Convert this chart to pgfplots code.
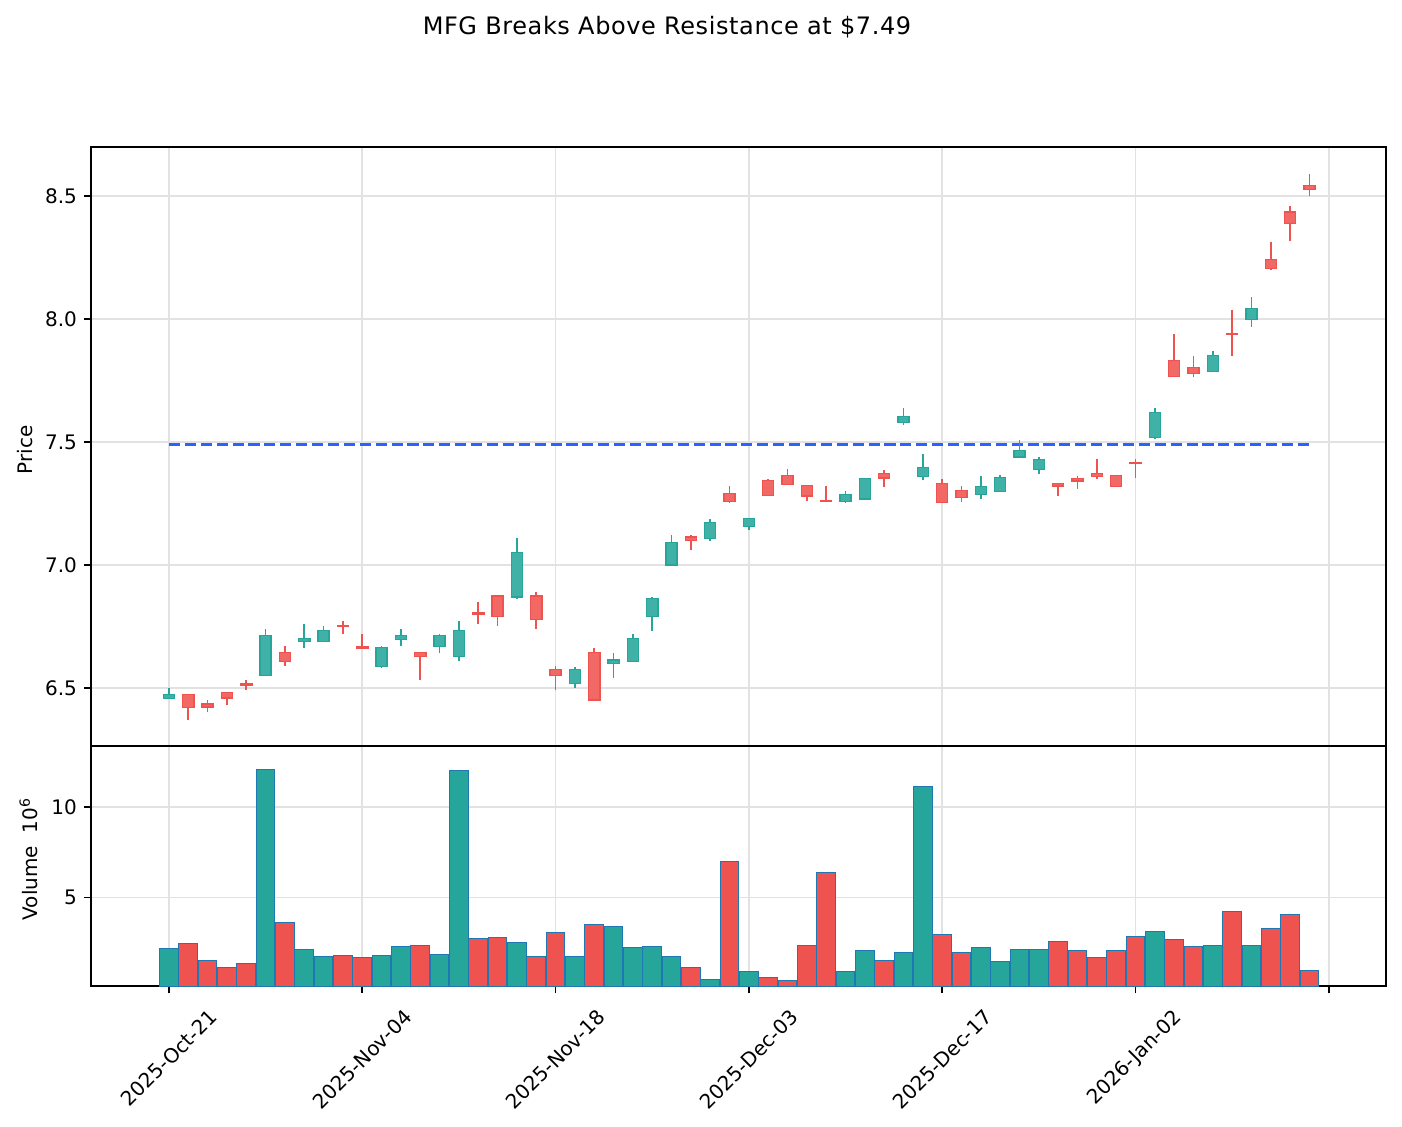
\documentclass[border=0pt]{standalone}
\usepackage{fontspec}
\setmainfont{DejaVu Sans}
\usepackage{graphicx}
\usepackage{pgfplots}
\pgfplotsset{compat=1.18}
\usepackage{pgfplotstable}

\definecolor{upc}{HTML}{26A69A}
\definecolor{dnc}{HTML}{EF5350}
\definecolor{volEdge}{HTML}{1F77B4}
\definecolor{resist}{HTML}{2962FF}
\definecolor{gridc}{HTML}{E2E2E2}

\pgfplotsset{
  upwick/.style={draw=upc, line width=0.85pt, mark=none, forget plot},
  dnwick/.style={draw=dnc, line width=0.85pt, mark=none, forget plot},
  upbody/.style={draw=upc, fill=upc!88!white, line width=0.7pt, mark=none, forget plot},
  dnbody/.style={draw=dnc, fill=dnc!88!white, line width=0.7pt, mark=none, forget plot},
  base/.style={
    scale only axis, width=647.5pt, xmin=-4.03, xmax=62.96,
    axis line style={line width=0.8pt, black},
    tick align=outside, major tick length=3.5pt,
    every tick/.style={black, line width=0.8pt},
    xtick pos=bottom, ytick pos=left,
    grid=major, grid style={gridc, line width=0.8pt},
    xtick={0,10,...,60},
    tick label style={font=\fontsize{10}{12}\selectfont, black},
    /pgf/number format/assume math mode=true,
  }
}

% candle: index, open, high, low, close
\newcommand\candle[5]{%
  \pgfmathsetmacro\lo{min(#2,#5)}%
  \pgfmathsetmacro\hi{max(#2,#5)}%
  \pgfmathsetmacro\xl{#1-0.29}%
  \pgfmathsetmacro\xr{#1+0.29}%
  \pgfmathparse{#5>=#2?1:0}%
  \ifdim\pgfmathresult pt>0.5pt \def\cc{up}\else\def\cc{dn}\fi
  \edef\tmp{%
    \noexpand\addplot[\cc wick] coordinates {(#1,#4) (#1,#3)};
    \noexpand\addplot[\cc body] coordinates {(\xl,\lo) (\xr,\lo) (\xr,\hi) (\xl,\hi)} -- cycle;
  }\tmp
}

\pgfplotstableread{
i v d
0 2.17 1
1 2.48 0
2 1.54 0
3 1.16 0
4 1.38 0
5 12.08 1
6 3.64 0
7 2.12 1
8 1.73 1
9 1.82 0
10 1.71 0
11 1.82 1
12 2.32 1
13 2.37 0
14 1.89 1
15 12.02 1
16 2.76 0
17 2.81 0
18 2.50 1
19 1.77 0
20 3.09 0
21 1.77 1
22 3.53 0
23 3.42 1
24 2.26 1
25 2.32 1
26 1.77 1
27 1.16 0
28 0.46 1
29 7.00 0
30 0.94 1
31 0.61 0
32 0.44 0
33 2.37 0
34 6.40 0
35 0.90 1
36 2.10 1
37 1.54 0
38 1.99 1
39 11.14 1
40 2.98 0
41 1.99 0
42 2.26 1
43 1.49 1
44 2.15 1
45 2.15 1
46 2.59 0
47 2.10 0
48 1.71 0
49 2.10 0
50 2.87 0
51 3.14 1
52 2.70 0
53 2.32 0
54 2.37 1
55 4.25 0
56 2.37 1
57 3.31 0
58 4.05 0
59 0.96 0
}\voltab

\begin{document}
\begin{tikzpicture}
\useasboundingbox (0pt,0pt) rectangle (701pt,563pt);

\node[font=\fontsize{12}{14}\selectfont] at (333.5pt,549.5pt) {\addfontfeature{LetterSpace=2.5}MFG Breaks Above Resistance at \$7.49};

\begin{axis}[base,
  at={(45.5pt,190pt)}, anchor=south west, height=299.5pt,
  ymin=6.264, ymax=8.699,
  ytick={6.5,7,7.5,8,8.5},
  yticklabel style={/pgf/number format/.cd, fixed, fixed zerofill, precision=1},
  xticklabels={}, x tick style={draw=none},
]
\addplot[resist, line width=1.5pt, dash pattern=on 5.55pt off 2.4pt, forget plot] coordinates {(0,7.49) (59,7.49)};
\candle{0}{6.458}{6.500}{6.455}{6.474}
\candle{1}{6.474}{6.475}{6.370}{6.421}
\candle{2}{6.434}{6.450}{6.404}{6.423}
\candle{3}{6.482}{6.483}{6.432}{6.459}
\candle{4}{6.516}{6.531}{6.493}{6.512}
\candle{5}{6.551}{6.740}{6.550}{6.714}
\candle{6}{6.645}{6.671}{6.591}{6.608}
\candle{7}{6.690}{6.760}{6.664}{6.702}
\candle{8}{6.690}{6.751}{6.689}{6.734}
\candle{9}{6.755}{6.772}{6.721}{6.751}
\candle{10}{6.666}{6.719}{6.662}{6.662}
\candle{11}{6.588}{6.671}{6.583}{6.665}
\candle{12}{6.698}{6.740}{6.672}{6.714}
\candle{13}{6.645}{6.646}{6.532}{6.629}
\candle{14}{6.669}{6.720}{6.644}{6.714}
\candle{15}{6.629}{6.772}{6.611}{6.734}
\candle{16}{6.804}{6.848}{6.761}{6.800}
\candle{17}{6.873}{6.874}{6.753}{6.791}
\candle{18}{6.870}{7.110}{6.863}{7.051}
\candle{19}{6.873}{6.889}{6.741}{6.779}
\candle{20}{6.574}{6.588}{6.493}{6.551}
\candle{21}{6.519}{6.584}{6.501}{6.576}
\candle{22}{6.645}{6.661}{6.450}{6.451}
\candle{23}{6.600}{6.642}{6.542}{6.614}
\candle{24}{6.608}{6.719}{6.607}{6.702}
\candle{25}{6.791}{6.870}{6.733}{6.864}
\candle{26}{6.999}{7.122}{6.998}{7.092}
\candle{27}{7.114}{7.122}{7.061}{7.100}
\candle{28}{7.108}{7.187}{7.099}{7.173}
\candle{29}{7.291}{7.321}{7.253}{7.259}
\candle{30}{7.156}{7.191}{7.142}{7.190}
\candle{31}{7.344}{7.348}{7.281}{7.282}
\candle{32}{7.364}{7.390}{7.327}{7.328}
\candle{33}{7.322}{7.323}{7.261}{7.280}
\candle{34}{7.262}{7.321}{7.258}{7.258}
\candle{35}{7.259}{7.301}{7.253}{7.286}
\candle{36}{7.268}{7.352}{7.267}{7.351}
\candle{37}{7.371}{7.386}{7.318}{7.354}
\candle{38}{7.580}{7.638}{7.570}{7.603}
\candle{39}{7.360}{7.451}{7.344}{7.397}
\candle{40}{7.332}{7.348}{7.254}{7.255}
\candle{41}{7.302}{7.321}{7.256}{7.275}
\candle{42}{7.287}{7.362}{7.270}{7.320}
\candle{43}{7.299}{7.364}{7.298}{7.356}
\candle{44}{7.438}{7.508}{7.437}{7.465}
\candle{45}{7.389}{7.438}{7.371}{7.429}
\candle{46}{7.331}{7.332}{7.282}{7.321}
\candle{47}{7.351}{7.360}{7.310}{7.341}
\candle{48}{7.371}{7.431}{7.351}{7.360}
\candle{49}{7.363}{7.364}{7.319}{7.320}
\candle{50}{7.417}{7.430}{7.355}{7.413}
\candle{51}{7.519}{7.638}{7.511}{7.620}
\candle{52}{7.832}{7.939}{7.762}{7.767}
\candle{53}{7.803}{7.850}{7.762}{7.779}
\candle{54}{7.787}{7.870}{7.786}{7.852}
\candle{55}{7.942}{8.037}{7.850}{7.938}
\candle{56}{7.997}{8.089}{7.969}{8.043}
\candle{57}{8.242}{8.313}{8.200}{8.206}
\candle{58}{8.434}{8.459}{8.318}{8.389}
\candle{59}{8.543}{8.589}{8.501}{8.527}
\end{axis}

\begin{axis}[base,
  at={(45.5pt,70pt)}, anchor=south west, height=120pt,
  ymin=0.127, ymax=13.36,
  ytick={5,10},
  xticklabels={\rotatebox{45}{2025-Oct-21},\rotatebox{45}{2025-Nov-04},\rotatebox{45}{2025-Nov-18},\rotatebox{45}{2025-Dec-03},\rotatebox{45}{2025-Dec-17},\rotatebox{45}{2026-Jan-02},{}},
  xticklabel style={anchor=north, inner sep=0pt, yshift=-7.5pt},
]
\addplot[ybar, bar shift=0pt, bar width=0.97, fill=upc, draw=volEdge, line width=0.5pt,
  restrict expr to domain={\thisrow{d}}{0.5:1.5}] table[x=i, y=v] {\voltab};
\addplot[ybar, bar shift=0pt, bar width=0.97, fill=dnc, draw=volEdge, line width=0.5pt,
  restrict expr to domain={\thisrow{d}}{-0.5:0.5}] table[x=i, y=v] {\voltab};
\end{axis}

\node[rotate=90, font=\fontsize{10}{12}\selectfont] at (12.3pt,338pt) {Price};
\node[rotate=90, font=\fontsize{10}{12}\selectfont] at (14.2pt,133.5pt) {Volume\ \ 10\textsuperscript{6}};
\end{tikzpicture}
\end{document}
